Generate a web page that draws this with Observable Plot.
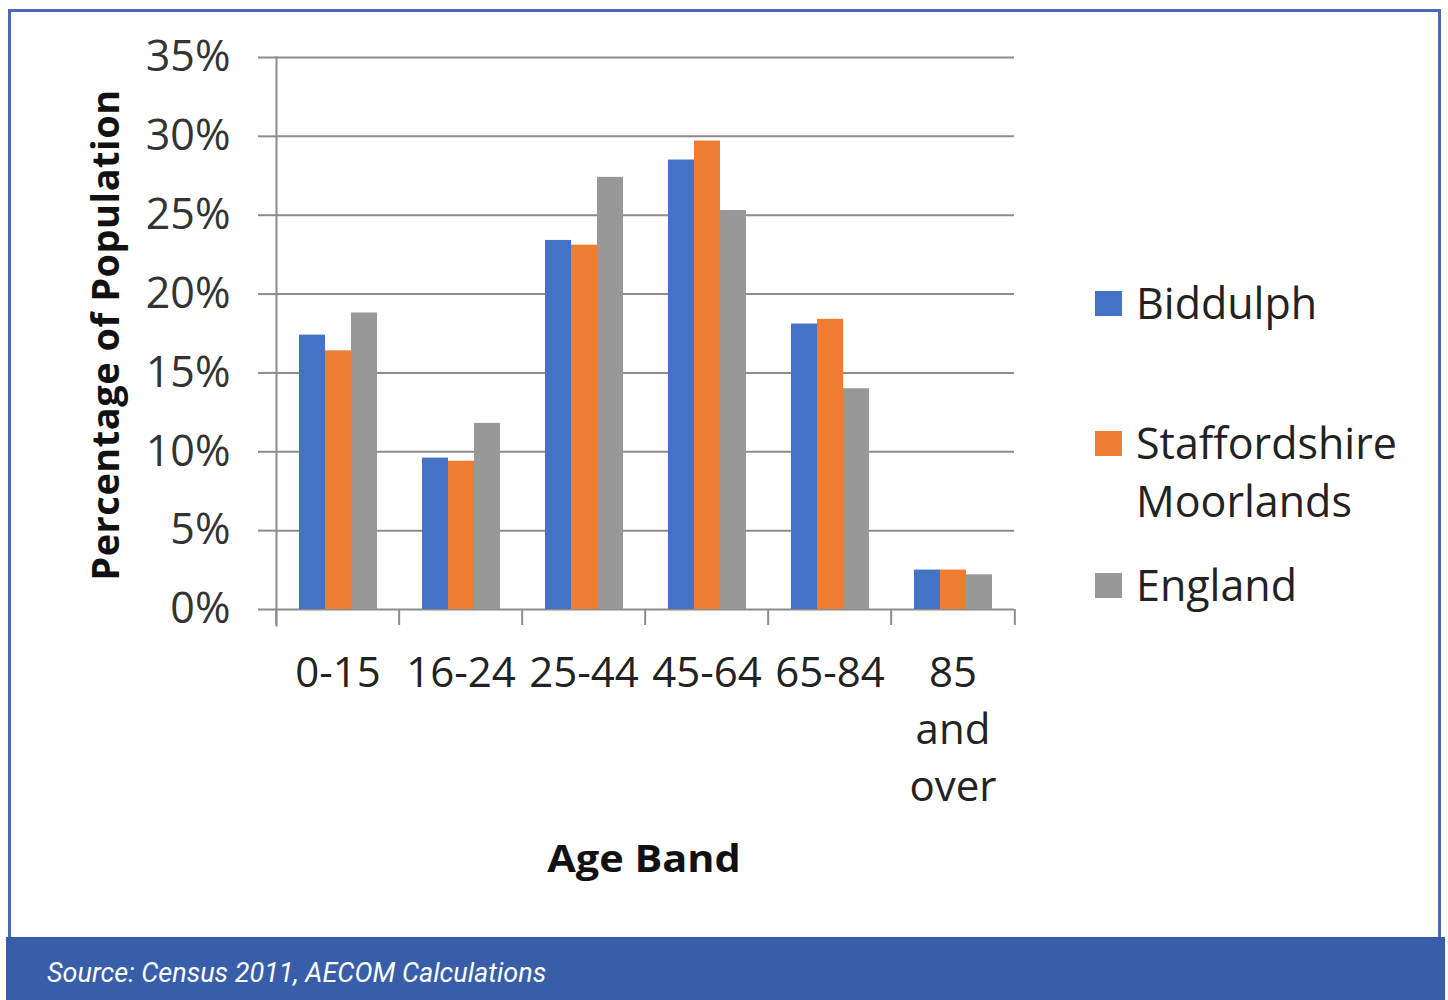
<!DOCTYPE html>
<html>
<head>
<meta charset="utf-8">
<script src="https://cdn.jsdelivr.net/npm/d3@7"></script>
<script src="https://cdn.jsdelivr.net/npm/@observablehq/plot@0.6"></script>
<style>
  html, body { margin: 0; padding: 0; background: #fff; }
  #page { position: relative; width: 1448px; height: 1000px; overflow: hidden; font-family: "Open Sans", sans-serif; }
  #box { position: absolute; left: 8px; top: 9px; width: 1433px; height: 940px; border: 3px solid #4a6ab5; box-sizing: border-box; }
  #chart { position: absolute; left: 0; top: 0; }
  #footer { position: absolute; left: 6px; top: 937px; width: 1439px; height: 63px; background: #385da9; }
  #footer span { position: absolute; left: 41px; top: 20px; font-family: Roboto, sans-serif; font-style: italic; font-size: 27px; color: #fff; }
  .ytitle { position: absolute; left: 104px; top: 335px; transform: translate(-50%, -50%) rotate(-90deg); font-weight: bold; font-size: 38px; letter-spacing: 0.5px; color: #111; white-space: nowrap; }
  .xtitle { position: absolute; left: 644px; top: 857px; transform: translate(-50%, -50%) scaleX(1.12); font-weight: bold; font-size: 37px; color: #111; white-space: nowrap; }
  .legend { position: absolute; left: 1095px; top: 0; }
  .item { position: absolute; left: 0; width: 340px; font-size: 43px; color: #222; line-height: 58px; }
  .item .sw { position: absolute; left: 0; top: 17px; width: 27px; height: 25px; }
  .item .lab { position: absolute; left: 41px; top: 0; white-space: nowrap; }
</style>
</head>
<body>
<div id="page">
  <div id="box"></div>
  <div id="chart"></div>
  <div class="ytitle">Percentage of Population</div>
  <div class="xtitle">Age Band</div>
  <div class="legend" id="legend"></div>
  <div id="footer"><span>Source: Census 2011, AECOM Calculations</span></div>
</div>
<script>
const ages = ["0-15", "16-24", "25-44", "45-64", "65-84", "85 and over"];
const series = ["Biddulph", "Staffordshire Moorlands", "England"];
const biddulph = [17.4, 9.6, 23.4, 28.5, 18.1, 2.5];
const staffordshireMoorlands = [16.4, 9.4, 23.1, 29.7, 18.4, 2.5];
const england = [18.8, 11.8, 27.4, 25.3, 14.0, 2.2];
const yTicks = [0, 5, 10, 15, 20, 25, 30, 35];
const colors = ["#4472c4", "#ee7d33", "#989898"];
const legendLines = [["Biddulph"], ["Staffordshire", "Moorlands"], ["England"]];

const values = [biddulph, staffordshireMoorlands, england];
const data = [];
series.forEach((s, i) => ages.forEach((a, j) => data.push({age: a, series: s, value: values[i][j]})));

const W = 1448, H = 900;
const mL = 274, mR = 432, mT = 57, mB = 291;
const step = (W - mL - mR) / ages.length;
const gridColor = "#8c8c8c";

const chart = Plot.plot({
  width: W, height: H,
  marginLeft: mL, marginRight: mR, marginTop: mT, marginBottom: mB,
  style: {fontFamily: "Open Sans", background: "transparent", overflow: "visible"},
  fx: {domain: ages, padding: 0, label: null, axis: null},
  x: {domain: series, paddingInner: 0, paddingOuter: 0.78, axis: null},
  y: {domain: [0, 35], label: null, axis: null},
  color: {domain: series, range: colors},
  marks: [
    Plot.ruleY(yTicks, {y: d => d, stroke: gridColor, strokeWidth: 2}),
    Plot.barY(data, {fx: "age", x: "series", y: "value", fill: "series"}),
    Plot.frame({anchor: "left", stroke: gridColor, strokeWidth: 2, facetAnchor: "left", insetBottom: -16}),
    Plot.axisY({ticks: yTicks, tickFormat: d => d + "%", tickSize: 18, tickPadding: 28, fontSize: 43,
      stroke: gridColor, strokeWidth: 2, fill: "#333", label: null, strokeOpacity: 1}),
    Plot.axisFx({anchor: "bottom", tickSize: 0, tickPadding: 37, fontSize: 42, fill: "#222", label: null, lineHeight: 1.36,
      tickFormat: d => d.replace(/ /g, "\n")}),
    Plot.axisFx({anchor: "bottom", text: null, tickSize: 16, dx: -step / 2, stroke: gridColor, strokeWidth: 2, label: null, strokeOpacity: 1}),
    Plot.axisFx({anchor: "bottom", ticks: [ages[ages.length - 1]], text: null, tickSize: 16, dx: step / 2, stroke: gridColor, strokeWidth: 2, label: null, strokeOpacity: 1})
  ]
});
document.getElementById("chart").appendChild(chart);

const tops = [274, 414, 556];
const legend = document.getElementById("legend");
series.forEach((s, i) => {
  const item = document.createElement("div");
  item.className = "item";
  item.style.top = tops[i] + "px";
  const sw = document.createElement("div");
  sw.className = "sw";
  sw.style.background = colors[i];
  const lab = document.createElement("div");
  lab.className = "lab";
  lab.innerHTML = legendLines[i].join("<br>");
  item.appendChild(sw);
  item.appendChild(lab);
  legend.appendChild(item);
});
</script>
</body>
</html>
